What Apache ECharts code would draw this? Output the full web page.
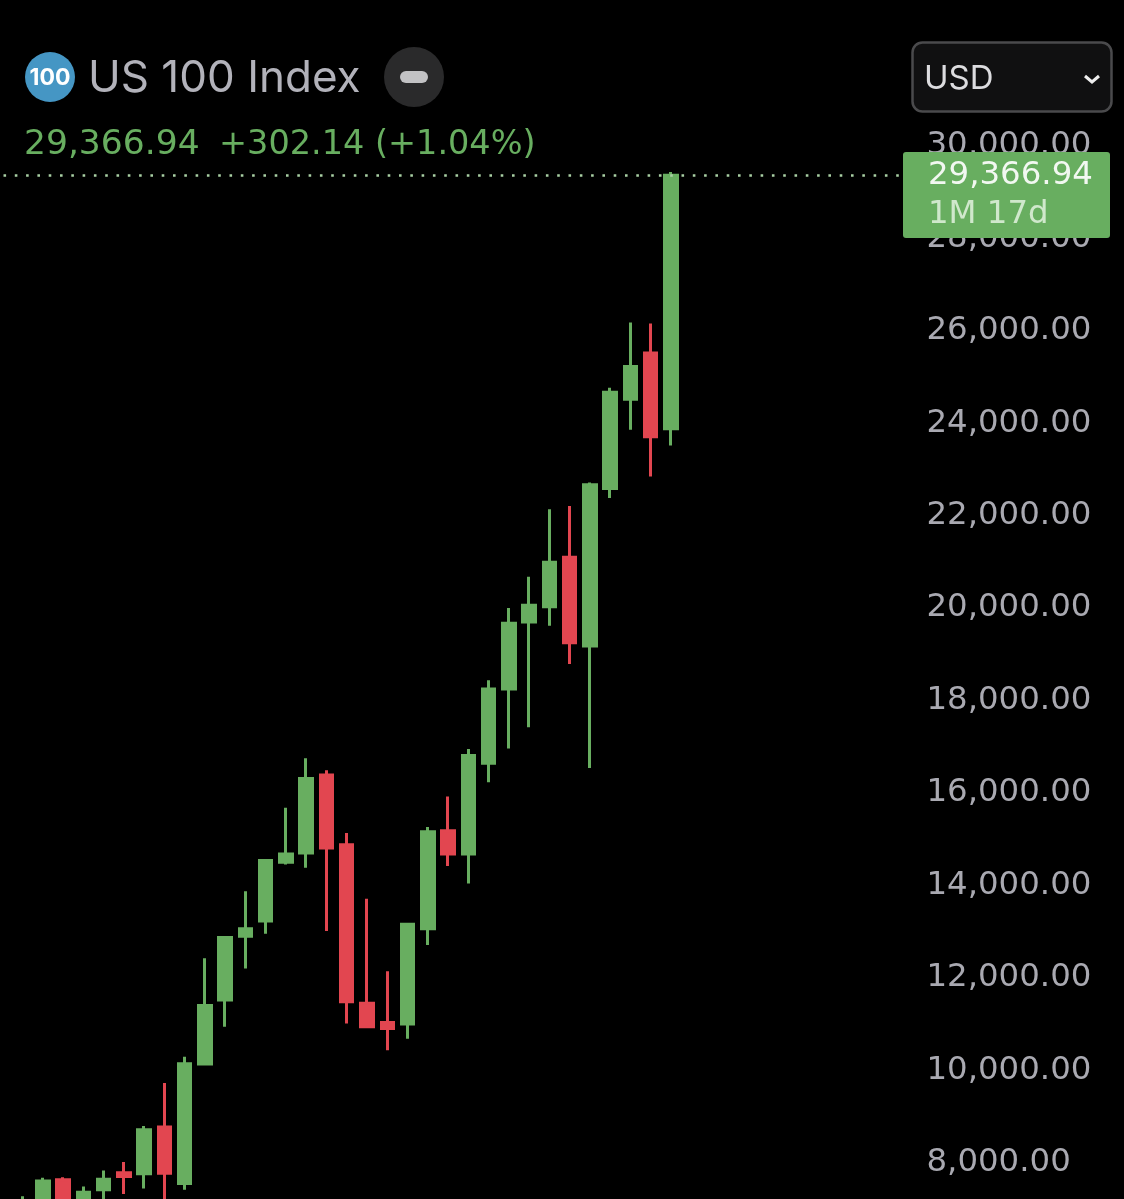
<!DOCTYPE html>
<html>
<head>
<meta charset="utf-8">
<title>US 100 Index</title>
<style>
  html, body { margin: 0; padding: 0; background: #000; }
  #chart { width: 1124px; height: 1199px; }
</style>
<script src="https://cdn.jsdelivr.net/npm/echarts@6/dist/echarts.min.js"></script>
</head>
<body>
<div id="chart"></div>
<script>
// candle values, one entry per period
var opens  = [6800, 6980, 7630, 7090, 7410, 7780, 7760, 8770, 7550, 10135, 11520, 12900, 13230, 14500, 14700, 16390, 14880, 11450, 11030, 11000, 13060, 15180, 14680, 16640, 18250, 19700, 20030, 21100, 19180, 22590, 24520, 25520, 23880];
var closes = [7100, 7600, 7090, 7360, 7640, 7700, 8710, 7770, 10140, 11400, 12870, 13060, 14540, 14680, 16310, 14810, 11480, 10940, 10900, 13160, 15160, 14680, 16810, 18250, 19670, 20060, 20990, 19250, 22670, 24670, 25230, 23710, 29366.94];
var lows   = [6660, 6770, 6880, 6980, 7090, 7320, 7440, 7090, 7410, 10130, 10940, 12200, 12950, 14450, 14380, 13010, 11010, 10930, 10430, 10680, 12710, 14420, 14040, 16230, 16960, 17420, 19620, 18790, 16540, 22380, 23860, 22850, 23520];
var highs  = [7270, 7670, 7680, 7480, 7830, 8010, 8790, 9720, 10290, 12420, 12900, 13870, 14550, 15680, 16750, 16490, 15130, 13710, 12140, 13170, 15260, 15920, 16950, 18440, 20000, 20680, 22140, 22210, 22720, 24770, 26180, 26160, 29440];

var lastPrice = 29366.94;
var changeText = '+302.14 (+1.04%)';
var countdownText = '1M 17d';
var currencyText = 'USD';
var titleText = 'US 100 Index';

var emptyBefore = 1;   // blank slot on the left so the price line runs to the edge
var emptyAfter = 11;   // blank slots between last candle and the price scale

var green = '#68ae60';
var red = '#e24650';
var labelGrey = '#a9a9b1';
var uiFont = 'Inter, "Noto Sans", sans-serif';
var numFont = '"DejaVu Sans", sans-serif'; // tabular digits, same widths as the reference

function format(num) {
  return num.toFixed(2).replace(/\B(?=(\d{3})+\.)/g, ',');
}

var categories = [];
var candles = [];
for (var i = 0; i < emptyBefore + opens.length + emptyAfter; i++) {
  categories.push('p' + i);
}
for (var j = 0; j < emptyBefore; j++) {
  candles.push(['-', '-', '-', '-']);
}
for (var k = 0; k < opens.length; k++) {
  candles.push([opens[k], closes[k], lows[k], highs[k]]);
}

var myChart = echarts.init(document.getElementById('chart'));

var option = {
  backgroundColor: '#000',
  animation: false,
  grid: { left: -7.8, right: 220.1, top: 146, bottom: -56, outerBoundsMode: 'none' },
  xAxis: {
    type: 'category',
    data: categories,
    boundaryGap: true,
    axisLine: { show: false },
    axisTick: { show: false },
    axisLabel: { show: false },
    splitLine: { show: false }
  },
  yAxis: {
    type: 'value',
    position: 'right',
    min: 6000,
    max: 30000,
    interval: 2000,
    scale: true,
    axisLine: { show: false },
    axisTick: { show: false },
    splitLine: { show: false },
    axisLabel: {
      color: labelGrey,
      fontFamily: numFont,
      fontSize: 32.4,
      align: 'left',
      margin: 22.6,
      padding: [6, 0, 0, 0],
      showMinLabel: true,
      showMaxLabel: true,
      formatter: function (v) { return format(v); }
    }
  },
  series: [{
    type: 'candlestick',
    data: candles,
    barWidth: 13,
    clip: false,
    itemStyle: {
      color: green,
      color0: red,
      borderColor: green,
      borderColor0: red,
      borderWidth: 3
    },
    markLine: {
      silent: true,
      symbol: 'none',
      label: { show: false },
      lineStyle: { color: '#a9d0a4', width: 2.6, type: [2.6, 8.7] },
      data: [{ yAxis: lastPrice }]
    }
  }],
  graphic: [
    // symbol badge
    { type: 'circle', shape: { cx: 50, cy: 77, r: 25 }, style: { fill: '#4596c4' } },
    { type: 'text', x: 50, y: 78, style: { text: '100', fill: '#fff', font: 'bold 23px ' + uiFont, textAlign: 'center', textVerticalAlign: 'middle' } },
    { type: 'text', x: 88, y: 79, style: { text: titleText, fill: '#b2b2ba', font: '44px ' + uiFont, textAlign: 'left', textVerticalAlign: 'middle' } },
    { type: 'circle', shape: { cx: 414, cy: 77, r: 30 }, style: { fill: '#2a2a2b' } },
    { type: 'rect', shape: { x: 400, y: 71, width: 28, height: 12, r: 6 }, style: { fill: '#c2c2c4' } },
    // quote line
    { type: 'text', x: 24, y: 145, style: { text: format(lastPrice), fill: green, font: '34.5px ' + numFont, textAlign: 'left', textVerticalAlign: 'middle' } },
    { type: 'text', x: 219, y: 145, style: { text: changeText, fill: green, font: '33.5px ' + numFont, textAlign: 'left', textVerticalAlign: 'middle' } },
    // currency select
    { type: 'rect', shape: { x: 912.5, y: 42.5, width: 199, height: 69, r: 10 }, style: { fill: '#101011', stroke: '#4a4a4c', lineWidth: 2.5 } },
    { type: 'text', x: 924, y: 79, style: { text: currencyText, fill: '#dcdcdf', font: '33px ' + uiFont, textAlign: 'left', textVerticalAlign: 'middle' } },
    { type: 'polyline', shape: { points: [[1085, 76], [1092, 82], [1099, 76]] }, style: { fill: 'none', stroke: '#eee', lineWidth: 3 } },
    // last price tag
    { type: 'rect', z: 100, shape: { x: 903, y: 152, width: 207, height: 86, r: 3 }, style: { fill: green } },
    { type: 'text', z: 101, x: 928, y: 176, style: { text: format(lastPrice), fill: '#f2f8f1', font: '32.4px ' + numFont, textAlign: 'left', textVerticalAlign: 'middle' } },
    { type: 'text', z: 101, x: 928, y: 215, style: { text: countdownText, fill: '#d0e8cc', font: '32.4px ' + numFont, textAlign: 'left', textVerticalAlign: 'middle' } }
  ]
};

myChart.setOption(option);
</script>
</body>
</html>
